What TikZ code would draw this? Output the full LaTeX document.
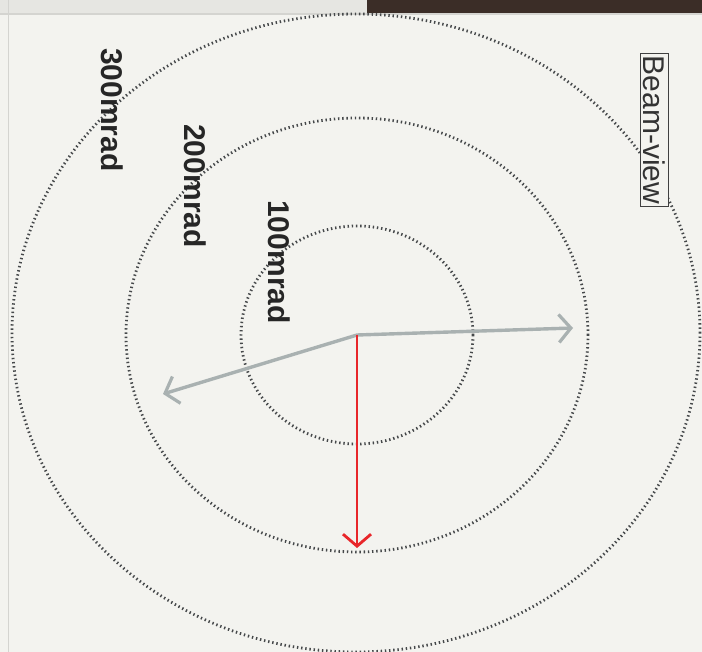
\documentclass[tikz,border=0pt]{standalone}
\usepackage{fontspec}
\setmainfont{Liberation Sans}
\usetikzlibrary{arrows.meta}
\definecolor{bgc}{HTML}{F3F3EF}
\definecolor{bandc}{HTML}{E6E6E2}
\definecolor{barc}{HTML}{3B2D27}
\definecolor{edgec}{HTML}{D4D4D0}
\definecolor{dotc}{HTML}{45484A}
\definecolor{arrgray}{HTML}{A9B1B1}
\definecolor{arrred}{HTML}{E8262A}
\tikzset{
  ring/.style={draw=dotc, line width=2.8pt, dash pattern=on 1.4pt off 2.8pt},
  grayarr/.style={draw=arrgray, line width=3.4pt, line join=round,
    {Straight Barb[length=12pt,width=28pt,line width=3.2pt]}-{Straight Barb[length=12pt,width=28pt,line width=3.2pt]}},
  redarr/.style={draw=arrred, line width=2.6pt,
    -{Straight Barb[length=12pt,width=28pt,line width=2.8pt]}},
  mradlbl/.style={font=\fontsize{30}{34}\selectfont\bfseries, text=black!85, rotate=-90, inner sep=0pt},
  beamlbl/.style={font=\fontsize{30}{34}\selectfont, text=black!80, rotate=-90, draw=black!75, line width=0.9pt, fill=bgc, inner xsep=2pt, inner ysep=3pt}
}
\begin{document}
\begin{tikzpicture}[x=1pt,y=-1pt]
\useasboundingbox (0,0) rectangle (702,652);
\fill[bgc] (0,0) rectangle (702,652);
% top strip
\fill[bandc] (0,0) rectangle (367,13);
\fill[barc] (367,0) rectangle (702,13);
\draw[edgec, line width=1.5pt] (0,14) -- (702,14);
\draw[edgec, line width=1.5pt] (8.5,0) -- (8.5,652);
% centre
\coordinate (o) at (357,335);
% rings
\draw[ring] (o) ellipse [x radius=116pt, y radius=109pt];
\draw[ring] (o) ellipse [x radius=231pt, y radius=217pt];
\draw[ring] (356,333) ellipse [x radius=344pt, y radius=319pt];
% labels
\node[mradlbl] (l300) at (112,110) {300mrad};
\node[mradlbl] (l200) at (195,186) {200mrad};
\node[mradlbl] (l100) at (279,262) {100mrad};
\node[beamlbl] (bv) at (654,130) {Beam-view};
% arrows
\coordinate (lt) at (163,394);
\coordinate (rt) at (573,328);
\coordinate (dn) at (357,548);
\draw[grayarr] (lt) -- (o) -- (rt);
\draw[redarr] (o) -- (dn);
\end{tikzpicture}
\end{document}
